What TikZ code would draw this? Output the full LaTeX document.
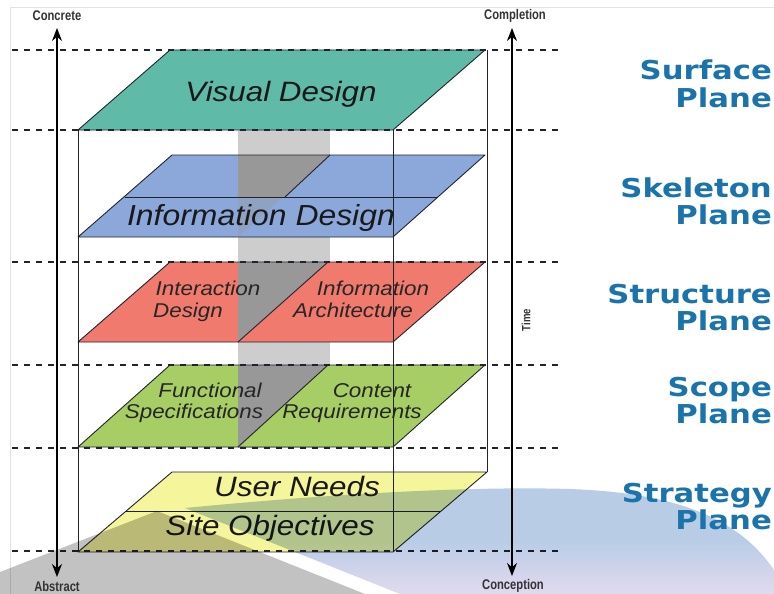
\documentclass[tikz,border=0pt]{standalone}
\usepackage{fontspec}
\setmainfont{Liberation Sans}
\newfontfamily\namefont{DejaVu Sans}
\usetikzlibrary{arrows.meta}

\definecolor{visualc}{RGB}{96,186,168}
\definecolor{skelc}{RGB}{140,168,218}
\definecolor{structc}{RGB}{240,122,110}
\definecolor{scopec}{RGB}{166,206,100}
\definecolor{stratc}{RGB}{245,245,156}
\definecolor{nameblue}{RGB}{26,115,170}
\definecolor{colLight}{RGB}{205,205,205}
\definecolor{colDark}{RGB}{152,152,152}
\definecolor{swooshblue}{RGB}{184,204,230}
\definecolor{swooshlav}{RGB}{226,218,238}
\definecolor{swooshgray}{RGB}{194,194,194}
\definecolor{edgec}{RGB}{35,35,45}
\definecolor{framec}{RGB}{226,226,226}

\newcommand{\hstretch}[2]{\scalebox{#1}[1]{#2}}

\begin{document}
\begin{tikzpicture}[x=1pt,y=-1pt,
  outline/.style={draw=edgec, line width=0.9pt, line join=round},
  guide/.style={draw=edgec, dash pattern=on 6pt off 6pt, line width=1.3pt},
  boxline/.style={draw=edgec, line width=0.8pt},
  axis/.style={draw=black, line width=1.4pt,
    {Stealth[length=13pt,width=10pt]}-{Stealth[length=13pt,width=10pt]}},
  bigtext/.style={font=\fontsize{28}{30}\selectfont\itshape, text=black!90, inner sep=0pt, anchor=base},
  smalltext/.style={font=\fontsize{20}{22}\selectfont\itshape, text=black!85, inner sep=0pt, anchor=base},
  axislabel/.style={font=\fontsize{14}{14}\selectfont\bfseries, text=black!80, inner sep=0pt},
  planename/.style={font=\namefont\bfseries\fontsize{26}{27}\selectfont, text=nameblue, inner sep=0pt, anchor=base east},
]
\useasboundingbox (0,0) rectangle (774,594);

% frame of the sheet
\draw[framec, line width=0.8pt] (10,594) -- (10,7) -- (774,7);

% the grey column that runs through the stack
\fill[colLight] (238,130) rectangle (330,448);

% plane fills
\fill[visualc] (78,130) -- (393,130) -- (485,50) -- (170,50) -- cycle;
\fill[skelc]   (78,237) -- (393,237) -- (485,155) -- (172,155) -- cycle;
\fill[structc] (78,342) -- (393,342) -- (485,262) -- (170,262) -- cycle;
\fill[scopec]  (78,447) -- (393,447) -- (485,365) -- (170,365) -- cycle;
\fill[stratc]  (78,552) -- (393,552) -- (487,472) -- (172,472) -- cycle;

% column seen through the planes
\fill[colDark] (238,155) -- (330,155) -- (285,197) -- (238,197) -- cycle;
\fill[colDark, opacity=0.35] (238,197) -- (283,197) -- (238,237) -- cycle;
\fill[colDark] (238,262) -- (328,262) -- (238,342) -- cycle;
\fill[colDark] (238,365) -- (328,365) -- (238,447) -- cycle;

% level guides
\foreach \yy in {50,130,262,365,448,551}
  \draw[guide] (12,\yy) -- (562,\yy);

% plane outlines and inner divisions
\draw[outline] (78,130) -- (393,130) -- (485,50) -- (170,50) -- cycle;
\draw[outline] (78,237) -- (393,237) -- (485,155) -- (172,155) -- cycle;
\draw[outline] (125,197) -- (438,197);
\draw[outline] (330,155) -- (285,197);
\draw[outline] (78,342) -- (393,342) -- (485,262) -- (170,262) -- cycle;
\draw[outline] (328,262) -- (238,342);
\draw[outline] (78,447) -- (393,447) -- (485,365) -- (170,365) -- cycle;
\draw[outline] (328,365) -- (238,447);
\draw[outline] (78,552) -- (393,552) -- (487,472) -- (172,472) -- cycle;
\draw[outline] (125,511) -- (440,511);

% frame of the box
\draw[boxline] (78,130) -- (78,552);
\draw[boxline] (393,130) -- (393,552);
\draw[boxline] (487,50) -- (487,472);

% plane contents
\node[bigtext] (visual) at (281,102) {\hstretch{1.12}{Visual Design}};
\node[bigtext, font=\fontsize{29}{30}\selectfont\itshape] (infodesign) at (261,225) {\hstretch{1.1}{Information Design}};
\node[smalltext] (interA) at (208,295) {\hstretch{1.12}{Interaction}};
\node[smalltext] (interB) at (188,317) {\hstretch{1.12}{Design}};
\node[smalltext] (archA) at (373,295) {\hstretch{1.12}{Information}};
\node[smalltext] (archB) at (353,317) {\hstretch{1.12}{Architecture}};
\node[smalltext] (funcA) at (210,397) {\hstretch{1.12}{Functional}};
\node[smalltext] (funcB) at (194,418) {\hstretch{1.12}{Specifications}};
\node[smalltext] (contA) at (372,397) {\hstretch{1.12}{Content}};
\node[smalltext] (contB) at (352,418) {\hstretch{1.12}{Requirements}};
\node[bigtext] (userneeds) at (297,496) {\hstretch{1.12}{User Needs}};
\node[bigtext] (siteobj) at (270,535) {\hstretch{1.12}{Site Objectives}};

% background swooshes, laid over the stack like a tinted film
\begin{scope}[blend mode=multiply]
  \fill[swooshgray] (0,572) -- (157,511) -- (365,594) -- (0,594) -- cycle;
  \shade[shading=axis, shading angle=60, top color=swooshblue, bottom color=swooshlav,
         middle color=swooshblue] (185,508)
    .. controls (330,494) and (470,486) .. (570,489)
    .. controls (680,493) and (740,520) .. (774,570)
    -- (774,594) -- (400,594) -- cycle;
\end{scope}

% axes
\coordinate (concreteTip) at (57,28);
\coordinate (abstractTip) at (57,577);
\coordinate (completionTip) at (512,28);
\coordinate (conceptionTip) at (512,576);
\draw[axis] (abstractTip) -- (concreteTip);
\draw[axis] (conceptionTip) -- (completionTip);
\node[axislabel] (concrete) at (57,16) {\hstretch{0.8}{Concrete}};
\node[axislabel] (abstract) at (57,586) {\hstretch{0.8}{Abstract}};
\node[axislabel] (completion) at (515,16) {\hstretch{0.8}{Completion}};
\node[axislabel] (conception) at (513,586) {\hstretch{0.8}{Conception}};
\node[axislabel, font=\fontsize{12}{12}\selectfont\bfseries, rotate=90] (time) at (526,320) {\hstretch{0.8}{Time}};

% plane names
\node[planename] (surfaceA) at (772,80) {\hstretch{1.18}{Surface}};
\node[planename] (surfaceB) at (772,107) {\hstretch{1.18}{Plane}};
\node[planename] (skeletonA) at (772,197) {\hstretch{1.18}{Skeleton}};
\node[planename] (skeletonB) at (772,224) {\hstretch{1.18}{Plane}};
\node[planename] (structureA) at (772,303) {\hstretch{1.18}{Structure}};
\node[planename] (structureB) at (772,330) {\hstretch{1.18}{Plane}};
\node[planename] (scopeA) at (772,396) {\hstretch{1.18}{Scope}};
\node[planename] (scopeB) at (772,423) {\hstretch{1.18}{Plane}};
\node[planename] (strategyA) at (772,502) {\hstretch{1.18}{Strategy}};
\node[planename] (strategyB) at (772,529) {\hstretch{1.18}{Plane}};
\end{tikzpicture}
\end{document}
